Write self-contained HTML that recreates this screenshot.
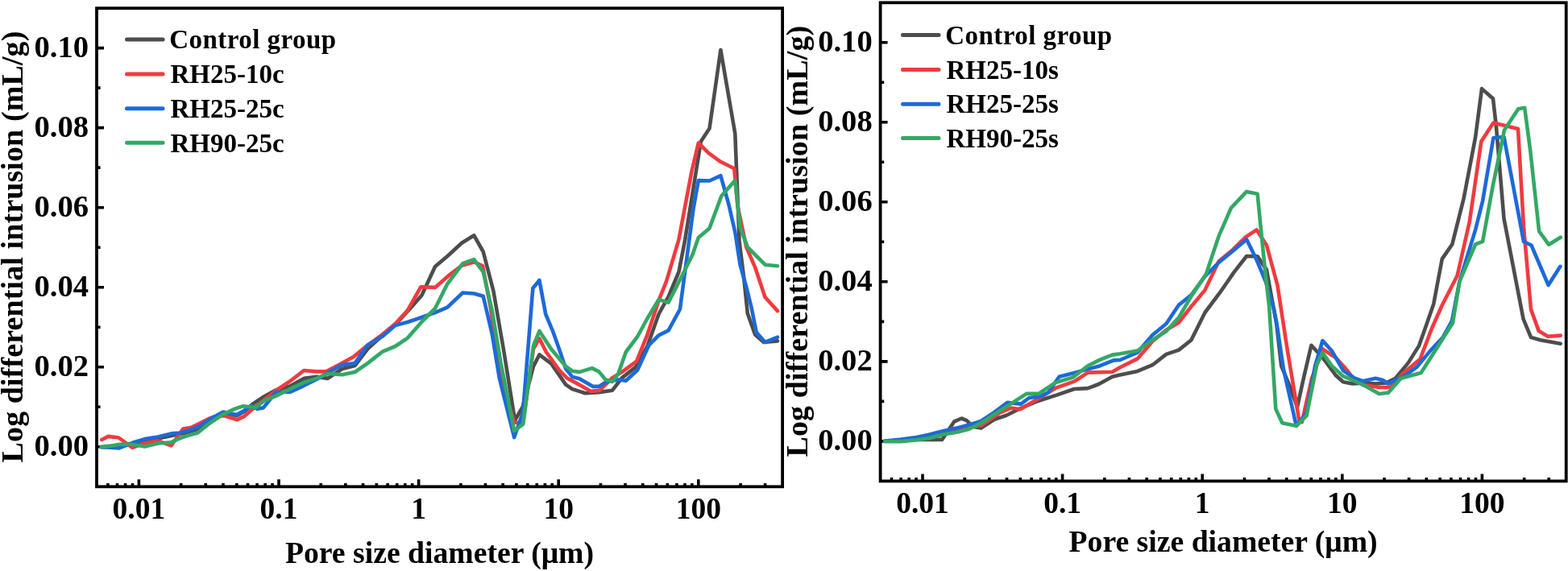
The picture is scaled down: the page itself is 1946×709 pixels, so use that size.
<!DOCTYPE html>
<html><head><meta charset="utf-8"><title>Pore size distribution</title>
<style>html,body{margin:0;padding:0;background:#fff;width:1946px;height:709px;overflow:hidden}svg{display:block}</style>
</head><body>
<svg width="1946" height="709" viewBox="0 0 1946 709">
<rect width="1946" height="709" fill="#fff"/>
<g transform="translate(0,0)">
<rect x="120" y="10.2" width="851.1" height="594.1" fill="none" stroke="#000" stroke-width="3.8"/>
<path d="M133.89,604.3V600.00M145.51,604.3V600.00M155.58,604.3V600.00M164.46,604.3V600.00M172.40,604.3V595.30M224.66,604.3V600.00M255.23,604.3V600.00M276.92,604.3V600.00M293.74,604.3V600.00M307.49,604.3V600.00M319.11,604.3V600.00M329.18,604.3V600.00M338.06,604.3V600.00M346.00,604.3V595.30M398.26,604.3V600.00M428.83,604.3V600.00M450.52,604.3V600.00M467.34,604.3V600.00M481.09,604.3V600.00M492.71,604.3V600.00M502.78,604.3V600.00M511.66,604.3V600.00M519.60,604.3V595.30M571.86,604.3V600.00M602.43,604.3V600.00M624.12,604.3V600.00M640.94,604.3V600.00M654.69,604.3V600.00M666.31,604.3V600.00M676.38,604.3V600.00M685.26,604.3V600.00M693.20,604.3V595.30M745.46,604.3V600.00M776.03,604.3V600.00M797.72,604.3V600.00M814.54,604.3V600.00M828.29,604.3V600.00M839.91,604.3V600.00M849.98,604.3V600.00M858.86,604.3V600.00M866.80,604.3V595.30M919.06,604.3V600.00M949.63,604.3V600.00M120,554.80H129.00M120,505.28H124.60M120,455.76H129.00M120,406.24H124.60M120,356.72H129.00M120,307.20H124.60M120,257.68H129.00M120,208.16H124.60M120,158.64H129.00M120,109.12H124.60M120,59.60H129.00" stroke="#000" stroke-width="3.6" fill="none"/>
<clipPath id="clipL"><rect x="120" y="10.2" width="851.1" height="594.1"/></clipPath>
<g clip-path="url(#clipL)" fill="none" stroke-width="4.6" stroke-linejoin="round" stroke-linecap="round">
<polyline points="126.0,555.0 134.6,555.0 147.3,553.5 164.4,551.0 179.6,548.5 196.1,544.5 212.6,541.0 228.0,538.0 245.0,533.0 260.0,522.0 277.0,513.0 294.0,516.0 303.0,511.0 314.0,501.4 325.8,493.6 341.6,484.7 359.4,479.8 377.2,469.9 393.0,467.9 406.8,469.9 424.6,458.0 440.4,454.1 456.2,433.3 475.2,416.0 490.5,403.3 505.7,386.8 523.5,366.5 540.0,331.0 556.5,317.0 573.0,301.7 588.3,292.3 599.7,312.5 612.4,361.4 625.4,436.7 639.0,522.0 648.7,505.1 662.0,455.0 669.4,440.4 684.3,451.6 702.2,477.6 710.3,483.1 726.4,488.3 743.2,487.1 760.0,484.7 772.0,469.1 788.8,455.9 803.1,430.7 817.5,390.0 829.5,368.4 842.5,337.5 850.2,297.6 869.8,175.8 880.5,159.5 894.4,62.0 912.3,165.9 917.6,300.0 923.1,344.2 927.8,389.2 937.1,415.6 948.0,424.9 965.0,423.4" stroke="#4d4d4d"/>
<polyline points="126.3,546.0 134.3,541.9 147.3,543.5 164.4,555.8 178.4,550.5 196.1,547.3 212.6,553.3 227.2,532.5 237.4,530.8 260.0,519.5 266.7,517.2 278.0,516.1 294.4,521.2 302.8,517.2 311.8,509.3 327.8,496.5 342.6,484.7 359.4,473.8 377.2,460.0 393.0,461.4 404.8,461.4 420.6,453.1 438.4,443.2 454.2,430.4 475.2,414.8 490.5,402.0 505.7,385.6 522.2,356.3 540.0,356.9 556.5,342.4 573.0,329.7 588.3,325.4 599.0,330.0 608.8,381.7 619.8,462.4 638.2,524.8 649.2,524.8 662.0,433.0 669.4,420.2 677.8,437.0 694.1,459.7 703.8,469.5 712.0,473.9 733.6,485.9 744.4,484.7 760.0,469.1 772.0,461.9 790.0,448.7 803.1,416.4 817.5,373.2 827.1,349.2 842.4,297.6 858.3,213.5 866.8,177.5 879.5,190.2 894.3,200.8 911.2,209.3 915.5,255.9 926.3,306.9 937.1,331.8 949.5,369.0 965.0,386.1" stroke="#ef3b3f"/>
<polyline points="125.7,555.2 134.6,555.5 147.3,556.5 164.4,549.8 179.6,545.1 196.1,542.5 212.6,538.4 222.7,537.5 235.1,534.2 246.4,529.6 262.2,519.5 276.9,511.6 293.8,515.0 302.8,509.9 311.8,503.7 318.6,507.6 326.8,506.4 342.6,486.7 360.4,486.7 377.2,478.8 393.0,470.9 406.8,463.0 424.6,453.1 440.4,451.1 456.2,428.4 475.2,417.3 490.5,404.1 505.7,400.0 523.5,394.0 540.0,388.1 555.2,381.7 574.3,363.5 588.3,364.5 599.7,367.8 610.7,414.7 619.8,469.7 638.2,543.1 649.0,512.0 661.3,358.0 669.4,348.0 677.2,390.0 686.0,411.1 694.1,433.8 702.2,458.1 710.3,467.9 719.2,470.3 736.0,479.9 743.2,479.9 752.8,473.9 767.2,471.5 776.8,472.7 791.1,459.5 805.5,428.3 817.5,416.4 829.5,410.4 843.9,384.0 860.4,260.1 866.8,224.1 880.5,224.5 894.4,218.2 904.5,254.2 912.3,288.3 918.5,328.7 926.3,356.6 932.5,381.5 938.7,412.5 949.5,424.9 965.0,418.7" stroke="#1c6ad9"/>
<polyline points="125.7,554.9 134.6,553.9 148.6,551.7 164.0,551.8 179.6,554.6 196.1,550.5 212.6,549.2 221.6,544.9 232.9,540.9 245.3,537.5 257.7,527.4 275.7,515.0 291.5,507.6 301.7,504.3 317.5,506.0 327.8,497.5 342.6,491.6 360.4,482.7 377.2,474.8 393.0,469.9 406.8,464.0 424.6,465.3 440.4,462.0 456.2,451.1 475.2,436.3 490.5,430.0 505.7,419.8 523.5,399.5 540.0,383.0 555.2,352.5 574.3,327.1 588.3,322.1 599.7,337.7 610.7,385.4 621.7,451.4 638.2,535.0 649.2,526.6 662.0,429.4 669.4,411.0 684.3,433.8 702.2,454.9 710.3,460.7 719.2,461.9 734.8,457.1 743.2,461.4 751.6,471.5 760.0,473.9 767.2,464.3 776.8,437.0 791.1,418.0 803.1,396.0 817.5,372.0 829.5,375.6 845.5,344.2 859.5,316.3 866.8,295.1 880.5,283.4 895.4,243.2 912.3,224.1 918.5,282.1 927.8,306.9 938.7,317.8 949.5,328.7 965.0,330.2" stroke="#33a865"/>
</g>
<text x="110.1" y="565.8" text-anchor="end" font-size="38.6" style="font-family:'Liberation Serif','Times New Roman',serif;font-weight:bold;">0.00</text>
<text x="110.1" y="466.8" text-anchor="end" font-size="38.6" style="font-family:'Liberation Serif','Times New Roman',serif;font-weight:bold;">0.02</text>
<text x="110.1" y="367.7" text-anchor="end" font-size="38.6" style="font-family:'Liberation Serif','Times New Roman',serif;font-weight:bold;">0.04</text>
<text x="110.1" y="268.7" text-anchor="end" font-size="38.6" style="font-family:'Liberation Serif','Times New Roman',serif;font-weight:bold;">0.06</text>
<text x="110.1" y="169.6" text-anchor="end" font-size="38.6" style="font-family:'Liberation Serif','Times New Roman',serif;font-weight:bold;">0.08</text>
<text x="110.1" y="70.6" text-anchor="end" font-size="38.6" style="font-family:'Liberation Serif','Times New Roman',serif;font-weight:bold;">0.10</text>
<text x="172.4" y="644.2" text-anchor="middle" font-size="37.5" style="font-family:'Liberation Serif','Times New Roman',serif;font-weight:bold;">0.01</text>
<text x="346.0" y="644.2" text-anchor="middle" font-size="37.5" style="font-family:'Liberation Serif','Times New Roman',serif;font-weight:bold;">0.1</text>
<text x="519.6" y="644.2" text-anchor="middle" font-size="37.5" style="font-family:'Liberation Serif','Times New Roman',serif;font-weight:bold;">1</text>
<text x="693.2" y="644.2" text-anchor="middle" font-size="37.5" style="font-family:'Liberation Serif','Times New Roman',serif;font-weight:bold;">10</text>
<text x="866.8" y="644.2" text-anchor="middle" font-size="37.5" style="font-family:'Liberation Serif','Times New Roman',serif;font-weight:bold;">100</text>
<text x="545.5" y="698.5" text-anchor="middle" font-size="37.7" style="font-family:'Liberation Serif','Times New Roman',serif;font-weight:bold;">Pore size diameter (μm)</text>
<text transform="translate(27.5,574.4) rotate(-90)" x="0" y="0" font-size="38" textLength="535.7" style="font-family:'Liberation Serif','Times New Roman',serif;font-weight:bold;">Log differential intrusion (mL/g)</text>
<line x1="157.5" y1="49.0" x2="202" y2="49.0" stroke="#4d4d4d" stroke-width="5" stroke-linecap="round"/>
<text x="210.3" y="60.3" font-size="33" textLength="206.9" style="font-family:'Liberation Serif','Times New Roman',serif;font-weight:bold;">Control group</text>
<line x1="157.5" y1="92.1" x2="202" y2="92.1" stroke="#ef3b3f" stroke-width="5" stroke-linecap="round"/>
<text x="211.5" y="103.4" font-size="33" style="font-family:'Liberation Serif','Times New Roman',serif;font-weight:bold;">RH25-10c</text>
<line x1="157.5" y1="134.8" x2="202" y2="134.8" stroke="#1c6ad9" stroke-width="5" stroke-linecap="round"/>
<text x="211.5" y="146.1" font-size="33" style="font-family:'Liberation Serif','Times New Roman',serif;font-weight:bold;">RH25-25c</text>
<line x1="157.5" y1="177.2" x2="202" y2="177.2" stroke="#33a865" stroke-width="5" stroke-linecap="round"/>
<text x="211.5" y="188.5" font-size="33" style="font-family:'Liberation Serif','Times New Roman',serif;font-weight:bold;">RH90-25c</text>
</g>
<g transform="translate(972.6,-6.9)">
<rect x="120" y="10.2" width="851.1" height="594.1" fill="none" stroke="#000" stroke-width="3.8"/>
<path d="M133.89,604.3V600.00M145.51,604.3V600.00M155.58,604.3V600.00M164.46,604.3V600.00M172.40,604.3V595.30M224.66,604.3V600.00M255.23,604.3V600.00M276.92,604.3V600.00M293.74,604.3V600.00M307.49,604.3V600.00M319.11,604.3V600.00M329.18,604.3V600.00M338.06,604.3V600.00M346.00,604.3V595.30M398.26,604.3V600.00M428.83,604.3V600.00M450.52,604.3V600.00M467.34,604.3V600.00M481.09,604.3V600.00M492.71,604.3V600.00M502.78,604.3V600.00M511.66,604.3V600.00M519.60,604.3V595.30M571.86,604.3V600.00M602.43,604.3V600.00M624.12,604.3V600.00M640.94,604.3V600.00M654.69,604.3V600.00M666.31,604.3V600.00M676.38,604.3V600.00M685.26,604.3V600.00M693.20,604.3V595.30M745.46,604.3V600.00M776.03,604.3V600.00M797.72,604.3V600.00M814.54,604.3V600.00M828.29,604.3V600.00M839.91,604.3V600.00M849.98,604.3V600.00M858.86,604.3V600.00M866.80,604.3V595.30M919.06,604.3V600.00M949.63,604.3V600.00M120,554.80H129.00M120,505.28H124.60M120,455.76H129.00M120,406.24H124.60M120,356.72H129.00M120,307.20H124.60M120,257.68H129.00M120,208.16H124.60M120,158.64H129.00M120,109.12H124.60M120,59.60H129.00" stroke="#000" stroke-width="3.6" fill="none"/>
<clipPath id="clipR"><rect x="120" y="10.2" width="851.1" height="594.1"/></clipPath>
<g clip-path="url(#clipR)" fill="none" stroke-width="4.6" stroke-linejoin="round" stroke-linecap="round">
<polyline points="125.5,554.6 145.8,554.4 164.8,552.8 181.4,552.5 196.6,552.8 211.8,530.2 220.7,526.4 227.1,529.0 234.7,536.6 244.8,538.5 261.4,527.7 275.9,522.9 292.8,514.4 314.8,505.1 338.5,497.5 360.5,489.9 377.5,489.0 391.0,483.9 407.9,474.6 417.4,472.5 439.1,467.8 457.7,460.1 474.8,446.8 490.3,441.5 505.8,429.1 522.9,394.9 541.5,370.1 558.6,345.3 574.5,324.9 588.0,325.3 599.3,341.8 611.8,410.2 617.6,461.3 629.3,489.2 637.4,512.5 645.5,475.3 654.8,435.7 668.8,450.9 685.1,472.9 694.4,481.1 706.0,483.4 720.9,482.3 734.5,483.4 748.0,482.3 759.3,476.7 775.1,457.5 788.6,436.0 797.7,410.1 806.7,384.1 811.8,356.7 817.2,328.3 829.7,310.3 844.1,252.8 858.5,177.4 866.4,117.0 880.4,129.4 884.4,164.9 893.9,278.4 918.0,403.1 927.4,425.8 939.3,429.1 964.1,433.6" stroke="#4d4d4d"/>
<polyline points="125.4,554.6 145.8,554.2 164.8,551.9 181.4,549.9 196.6,545.9 214.4,541.9 230.9,536.9 245.4,535.1 267.4,519.9 282.4,513.4 293.4,515.2 316.5,501.7 338.5,488.2 360.5,480.6 377.5,469.5 407.9,468.7 417.4,463.2 439.1,452.3 457.7,430.6 474.8,416.7 490.3,407.4 507.4,385.6 522.9,367.0 539.9,331.4 557.0,317.4 573.3,301.2 586.9,292.2 599.3,311.3 612.8,361.0 624.6,438.1 639.7,528.8 643.2,531.1 655.4,476.9 668.8,440.4 685.1,450.9 696.7,463.6 706.0,475.3 720.9,485.0 739.0,487.9 752.5,487.9 768.3,471.0 789.8,453.0 804.4,414.6 816.9,386.4 836.0,349.2 851.3,281.6 865.7,182.7 880.8,159.4 911.4,166.9 918.4,288.9 927.4,391.0 937.1,417.8 948.4,424.6 964.1,423.5" stroke="#ef3b3f"/>
<polyline points="125.5,554.4 145.8,552.5 164.8,549.9 180.1,546.7 196.6,542.3 214.4,538.5 230.9,534.0 244.8,529.9 261.4,518.7 277.6,506.8 294.5,508.5 304.7,500.9 318.2,499.2 328.4,494.1 341.9,474.6 358.8,470.4 377.5,465.3 392.7,461.1 409.6,454.3 417.4,453.9 439.1,444.6 457.7,422.9 474.8,408.9 490.3,385.6 505.8,373.2 522.9,350.0 539.9,332.9 557.0,318.9 574.5,304.1 586.9,329.4 598.2,356.5 608.3,390.3 611.8,407.8 620.0,463.6 636.2,535.7 649.0,519.5 659.5,461.3 668.8,429.9 680.4,442.7 694.4,467.1 708.3,476.4 718.7,480.1 734.5,476.7 743.5,478.9 750.3,483.4 761.6,477.8 772.8,472.2 786.4,462.0 802.2,442.8 818.0,425.9 829.3,405.6 838.7,356.7 858.5,292.3 867.5,256.4 880.8,178.1 893.9,176.9 918.4,306.9 927.9,311.4 949.0,360.9 963.8,337.7" stroke="#1c6ad9"/>
<polyline points="125.5,555.0 145.8,555.0 164.8,553.1 180.1,551.2 196.6,546.7 214.4,543.6 229.6,539.8 244.8,532.4 261.4,521.4 284.3,506.8 301.3,495.8 316.5,495.8 336.8,482.2 358.8,475.5 377.5,461.1 392.7,453.5 407.9,447.5 417.4,446.1 439.1,442.4 457.7,429.1 474.8,418.2 490.3,401.2 505.8,374.8 524.4,346.9 539.9,300.3 555.3,265.1 574.5,244.8 588.0,247.7 592.5,293.3 598.2,349.7 602.5,386.9 610.7,514.8 618.8,532.2 636.2,535.7 649.0,522.9 661.8,459.0 668.8,445.0 680.4,461.3 694.4,474.1 708.3,479.9 720.9,485.7 739.0,495.9 750.3,494.7 766.1,476.7 790.9,469.9 809.0,441.7 830.4,407.8 838.7,356.7 858.5,310.3 867.5,306.7 880.0,238.4 894.4,168.4 911.7,142.1 919.6,140.7 926.8,195.3 937.5,294.1 949.5,310.6 964.1,301.6" stroke="#33a865"/>
</g>
<text x="110.1" y="565.8" text-anchor="end" font-size="38.6" style="font-family:'Liberation Serif','Times New Roman',serif;font-weight:bold;">0.00</text>
<text x="110.1" y="466.8" text-anchor="end" font-size="38.6" style="font-family:'Liberation Serif','Times New Roman',serif;font-weight:bold;">0.02</text>
<text x="110.1" y="367.7" text-anchor="end" font-size="38.6" style="font-family:'Liberation Serif','Times New Roman',serif;font-weight:bold;">0.04</text>
<text x="110.1" y="268.7" text-anchor="end" font-size="38.6" style="font-family:'Liberation Serif','Times New Roman',serif;font-weight:bold;">0.06</text>
<text x="110.1" y="169.6" text-anchor="end" font-size="38.6" style="font-family:'Liberation Serif','Times New Roman',serif;font-weight:bold;">0.08</text>
<text x="110.1" y="70.6" text-anchor="end" font-size="38.6" style="font-family:'Liberation Serif','Times New Roman',serif;font-weight:bold;">0.10</text>
<text x="172.4" y="644.2" text-anchor="middle" font-size="37.5" style="font-family:'Liberation Serif','Times New Roman',serif;font-weight:bold;">0.01</text>
<text x="346.0" y="644.2" text-anchor="middle" font-size="37.5" style="font-family:'Liberation Serif','Times New Roman',serif;font-weight:bold;">0.1</text>
<text x="519.6" y="644.2" text-anchor="middle" font-size="37.5" style="font-family:'Liberation Serif','Times New Roman',serif;font-weight:bold;">1</text>
<text x="693.2" y="644.2" text-anchor="middle" font-size="37.5" style="font-family:'Liberation Serif','Times New Roman',serif;font-weight:bold;">10</text>
<text x="866.8" y="644.2" text-anchor="middle" font-size="37.5" style="font-family:'Liberation Serif','Times New Roman',serif;font-weight:bold;">100</text>
<text x="545.5" y="692.2" text-anchor="middle" font-size="37.7" style="font-family:'Liberation Serif','Times New Roman',serif;font-weight:bold;">Pore size diameter (μm)</text>
<text transform="translate(29.7,574.4) rotate(-90)" x="0" y="0" font-size="38" textLength="535.7" style="font-family:'Liberation Serif','Times New Roman',serif;font-weight:bold;">Log differential intrusion (mL/g)</text>
<line x1="147.9" y1="50.3" x2="192.4" y2="50.3" stroke="#4d4d4d" stroke-width="5" stroke-linecap="round"/>
<text x="200.70000000000002" y="61.6" font-size="33" textLength="206.9" style="font-family:'Liberation Serif','Times New Roman',serif;font-weight:bold;">Control group</text>
<line x1="147.9" y1="93.39999999999999" x2="192.4" y2="93.39999999999999" stroke="#ef3b3f" stroke-width="5" stroke-linecap="round"/>
<text x="201.9" y="104.7" font-size="33" style="font-family:'Liberation Serif','Times New Roman',serif;font-weight:bold;">RH25-10s</text>
<line x1="147.9" y1="136.10000000000002" x2="192.4" y2="136.10000000000002" stroke="#1c6ad9" stroke-width="5" stroke-linecap="round"/>
<text x="201.9" y="147.4" font-size="33" style="font-family:'Liberation Serif','Times New Roman',serif;font-weight:bold;">RH25-25s</text>
<line x1="147.9" y1="178.5" x2="192.4" y2="178.5" stroke="#33a865" stroke-width="5" stroke-linecap="round"/>
<text x="201.9" y="189.8" font-size="33" style="font-family:'Liberation Serif','Times New Roman',serif;font-weight:bold;">RH90-25s</text>
</g>
</svg>
</body></html>
